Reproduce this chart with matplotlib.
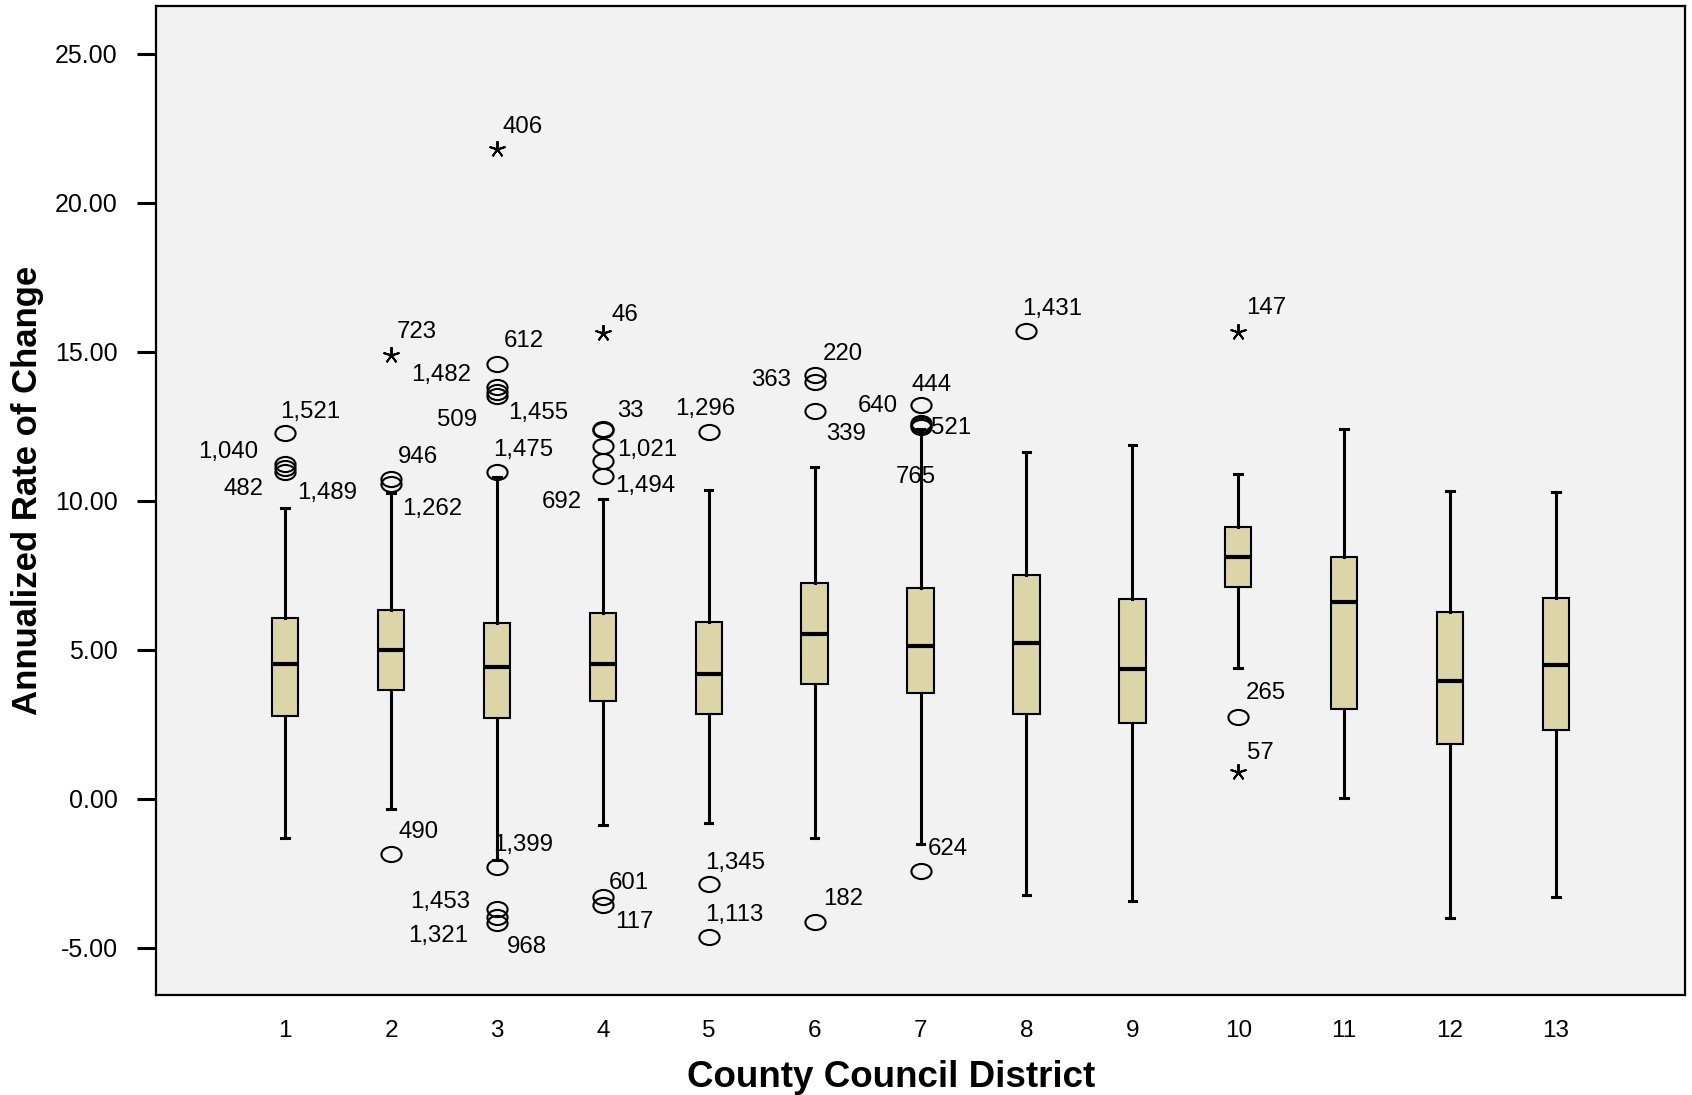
import numpy as np
import matplotlib
matplotlib.use("Agg")
import matplotlib.pyplot as plt
from matplotlib.path import Path
from matplotlib.transforms import Affine2D

plt.rcParams['font.family'] = ['Liberation Sans', 'DejaVu Sans']

# box statistics per district
districts = list(range(1, 14))
whis_lo = [-1.31, -0.34, -2.05, -0.87, -0.81, -1.31, -1.51, -3.22, -3.44, 4.40, 0.03, -3.99, -3.30]
q1 = [2.79, 3.66, 2.72, 3.30, 2.86, 3.84, 3.55, 2.86, 2.54, 7.11, 3.02, 1.85, 2.32]
med = [4.53, 5.00, 4.42, 4.53, 4.20, 5.54, 5.14, 5.22, 4.35, 8.10, 6.59, 3.96, 4.49]
q3 = [6.07, 6.34, 5.90, 6.23, 5.95, 7.25, 7.07, 7.52, 6.71, 9.13, 8.12, 6.27, 6.74]
whis_hi = [9.77, 10.27, 10.80, 10.07, 10.37, 11.14, 12.40, 11.64, 11.88, 10.91, 12.42, 10.33, 10.29]

# outliers: 'o' = outlier, '*' = extreme
out_district = [1, 1, 1, 1,
                2, 2, 2, 2,
                3, 3, 3, 3, 3, 3, 3, 3, 3, 3,
                4, 4, 4, 4, 4, 4, 4, 4,
                5, 5, 5,
                6, 6, 6, 6,
                7, 7, 7, 7, 7,
                8,
                10, 10, 10]
out_value = [12.28, 11.24, 11.11, 10.97,
             14.90, 10.74, 10.57, -1.85,
             21.81, 14.60, 13.83, 13.66, 13.52, 10.98, -2.28, -3.71, -3.96, -4.16,
             15.64, 12.42, 12.36, 11.85, 11.34, 10.84, -3.29, -3.56,
             12.32, -2.85, -4.63,
             14.23, 13.99, 13.02, -4.13,
             13.22, 12.62, 12.55, 12.48, -2.42,
             15.70,
             15.67, 2.75, 0.91]
out_label = ['1,521', '1,040', '482', '1,489',
             '723', '946', '1,262', '490',
             '406', '612', '1,482', '509', '1,455', '1,475', '1,399', '1,453', '1,321', '968',
             '46', '33', '', '1,021', '1,494', '692', '601', '117',
             '1,296', '1,345', '1,113',
             '220', '363', '339', '182',
             '444', '640', '521', '765', '624',
             '1,431',
             '147', '265', '57']
out_kind = ['o', 'o', 'o', 'o',
            '*', 'o', 'o', 'o',
            '*', 'o', 'o', 'o', 'o', 'o', 'o', 'o', 'o', 'o',
            '*', 'o', 'o', 'o', 'o', 'o', 'o', 'o',
            'o', 'o', 'o',
            'o', 'o', 'o', 'o',
            'o', 'o', 'o', 'o', 'o',
            'o',
            '*', 'o', '*']

# label placement (pixel offsets from the marker, horizontal alignment)
label_pos = {
    '1,521': (-5, 21, 'left'), '1,040': (-27, 12, 'right'), '482': (-22, -21, 'right'),
    '1,489': (12, -21, 'left'), '723': (6, 23, 'left'), '946': (7, 22, 'left'),
    '1,262': (11, -25, 'left'), '490': (7, 22, 'left'), '406': (6, 22, 'left'),
    '612': (7, 23, 'left'), '1,482': (-26, 12, 'right'), '509': (-20, -28, 'right'),
    '1,455': (11, -17, 'left'), '1,475': (-4, 22, 'left'), '1,399': (-4, 22, 'left'),
    '1,453': (-27, 7, 'right'), '1,321': (-29, -19, 'right'), '968': (10, -24, 'left'),
    '46': (9, 18, 'left'), '33': (14, 18, 'left'), '1,021': (14, -4, 'left'),
    '1,494': (12, -25, 'left'), '692': (-21, -26, 'right'), '601': (6, 14, 'left'),
    '117': (12, -17, 'left'), '1,296': (-34, 23, 'left'), '1,345': (-4, 21, 'left'),
    '1,113': (-4, 22, 'left'), '220': (8, 21, 'left'), '363': (-24, 2, 'right'),
    '339': (11, -23, 'left'), '182': (8, 23, 'left'), '444': (-9, 20, 'left'),
    '640': (-23, 17, 'right'), '521': (10, -3, 'left'), '765': (-25, -50, 'left'),
    '624': (7, 22, 'left'), '1,431': (-4, 22, 'left'), '147': (8, 24, 'left'),
    '265': (8, 24, 'left'), '57': (9, 19, 'left'),
}

fig = plt.figure(figsize=(16.92, 10.95), dpi=100)
ax = fig.add_axes([0.0922, 0.0913, 0.9037, 0.9032])
ax.set_facecolor('#f2f2f2')

stats = []
for i in range(len(districts)):
    stats.append(dict(med=med[i], q1=q1[i], q3=q3[i], whislo=whis_lo[i], whishi=whis_hi[i], fliers=[]))

ax.bxp(stats, positions=districts, widths=0.25, patch_artist=True, showfliers=False,
       capwidths=0.07,
       boxprops=dict(facecolor='#dbd5a8', edgecolor='black', linewidth=1.5),
       medianprops=dict(color='black', linewidth=3.0),
       whiskerprops=dict(color='black', linewidth=2.2),
       capprops=dict(color='black', linewidth=2.2))

ellipse = Path.unit_circle().transformed(Affine2D().scale(1.0, 0.75))
out_district = np.array(out_district)
out_value = np.array(out_value)
is_ext = np.array([k == '*' for k in out_kind])

ax.plot(out_district[~is_ext], out_value[~is_ext], linestyle='none', marker=ellipse,
        markersize=14.5, markerfacecolor='none', markeredgecolor='black', markeredgewidth=1.5, zorder=4)
ax.plot(out_district[is_ext], out_value[is_ext], linestyle='none', marker=(5, 2, 0),
        markersize=12, markeredgecolor='black', markeredgewidth=1.4, zorder=4)

for d, v, lab in zip(out_district, out_value, out_label):
    if not lab:
        continue
    dx, dy, ha = label_pos[lab]
    ax.annotate(lab, (d, v), xytext=(dx, dy), textcoords='offset pixels',
                ha=ha, va='center', fontsize=17.3)

ax.set_xlim(-0.22, 14.22)
ax.set_ylim(-6.58, 26.6)
ax.set_xticks(districts)
ax.set_xticklabels([str(d) for d in districts])
ax.set_yticks([-5, 0, 5, 10, 15, 20, 25])
ax.set_yticklabels(['%.2f' % t for t in [-5, 0, 5, 10, 15, 20, 25]])
ax.tick_params(axis='x', length=0, pad=18, labelsize=17.5)
ax.tick_params(axis='y', length=13.7, width=2.2, pad=14, labelsize=18)
for s in ax.spines.values():
    s.set_linewidth(1.6)

ax.set_xlabel('County Council District', fontsize=26.5, fontweight='bold')
ax.set_ylabel('Annualized Rate of Change', fontsize=25, fontweight='bold')
ax.xaxis.set_label_coords(0.481, -0.066)
ax.yaxis.set_label_coords(-0.073, 0.51)

fig.savefig('out.png', dpi=100)
